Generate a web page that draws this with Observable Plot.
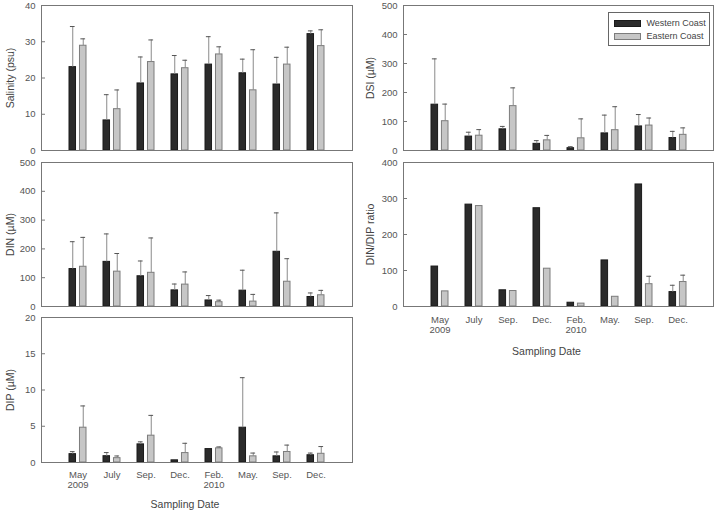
<!DOCTYPE html>
<html>
<head>
<meta charset="utf-8">
<script src="https://cdn.jsdelivr.net/npm/d3@7"></script>
<script src="https://cdn.jsdelivr.net/npm/@observablehq/plot@0.6"></script>
<style>
  body { margin: 0; background: #fff; }
  #fig { position: relative; width: 721px; height: 510px; background: #fff;
         font-family: "Liberation Sans", Arial, sans-serif; color: #444; }
  #fig .panel { position: absolute; }
  #fig .panel svg { overflow: visible; }
  .legend { position: absolute; left: 607.5px; top: 12px; width: 102px; height: 34px;
            border: 1px solid #666; box-sizing: border-box; font-size: 9px; color: #444;
            background: #fff; }
  .legend .row { position: absolute; left: 5px; height: 12px; display: flex; align-items: center;
                 white-space: nowrap; }
  .legend .sw { width: 25px; height: 5px; margin-right: 6px; flex: none; }
</style>
</head>
<body>
<div id="fig"></div>
<script>
// Sampling campaigns and their axis labels
const dates = ["May 2009", "Jul 2009", "Sep 2009", "Dec 2009", "Feb 2010", "May 2010", "Sep 2010", "Dec 2010"];
const dateLabels = ["May\n2009", "July", "Sep.", "Dec.", "Feb.\n2010", "May.", "Sep.", "Dec."];
const seriesNames = ["Western Coast", "Eastern Coast"];

// Salinity (psu): mean and standard deviation
const salinityWest   = [23.0, 8.3, 18.5, 21.0, 23.7, 21.3, 18.2, 32.1];
const salinityWestSD = [11.2, 7.1, 7.3, 5.2, 7.7, 3.9, 7.5, 0.9];
const salinityEast   = [28.9, 11.4, 24.4, 22.7, 26.5, 16.6, 23.7, 28.8];
const salinityEastSD = [1.9, 5.3, 6.1, 2.2, 2.1, 11.2, 4.8, 4.5];

// Dissolved inorganic nitrogen (µM)
const dinWest   = [130, 155, 105, 56, 21, 55, 190, 33];
const dinWestSD = [95, 97, 53, 22, 17, 71, 135, 14];
const dinEast   = [138, 121, 117, 76, 15, 17, 86, 39];
const dinEastSD = [102, 63, 121, 44, 7, 25, 80, 17];

// Dissolved inorganic phosphorus (µM)
const dipWest   = [1.15, 0.87, 2.5, 0.3, 1.85, 4.8, 0.85, 1.0];
const dipWestSD = [0.35, 0.5, 0.35, null, null, 6.9, 0.6, 0.3];
const dipEast   = [4.8, 0.6, 3.7, 1.3, 1.95, 0.85, 1.45, 1.2];
const dipEastSD = [3.0, 0.3, 2.8, 1.35, 0.2, 0.45, 0.95, 1.0];

// Dissolved silicate (µM)
const dsiWest   = [158, 48, 73, 23, 8, 59, 83, 43];
const dsiWestSD = [158, 15, 10, 11, 5, 63, 41, 23];
const dsiEast   = [101, 51, 153, 35, 42, 70, 86, 54];
const dsiEastSD = [59, 21, 63, 17, 67, 81, 26, 24];

// DIN/DIP ratio
const ratioWest   = [111, 283, 45, 273, 10.5, 128, 339, 40];
const ratioWestSD = [null, null, null, null, null, null, null, 19];
const ratioEast   = [42, 279, 43, 105, 8, 27, 62, 68];
const ratioEastSD = [null, null, null, null, null, null, 22, 19];

// y ticks
const salinityTicks = [0, 10, 20, 30, 40];
const dinTicks = [0, 100, 200, 300, 400, 500];
const dipTicks = [0, 5, 10, 15, 20];
const dsiTicks = [0, 100, 200, 300, 400, 500];
const ratioTicks = [0, 100, 200, 300, 400];

const WEST_FILL = "#2b2b2b", WEST_STROKE = "#1a1a1a";
const EAST_FILL = "#c6c6c6", EAST_STROKE = "#7c7c7c";
const AXIS = "#777";

const fig = document.getElementById("fig");
const labelOf = new Map(dates.map((d, i) => [d, dateLabels[i]]));

function panel({west, westSD, east, eastSD, domain, ticks, label,
                left, top, ml, mt, mb, mr = 2, fw, fh, xAxis = false, tickPad = 8, titleDy = 42}) {
  const step = fw / 9, band = step * 0.5, barW = 6.8, gap = band - barW, cap = 2.5;
  const rows = (v, sd) => dates.map((d, i) => ({date: d, value: v[i], sd: sd[i]}));
  const W = rows(west, westSD), E = rows(east, eastSD);
  const errW = W.filter(d => d.sd != null), errE = E.filter(d => d.sd != null);
  const marks = [
    Plot.barY(W, {x: "date", y: "value", insetRight: gap, fill: WEST_FILL, stroke: WEST_STROKE, strokeWidth: 1}),
    Plot.barY(E, {x: "date", y: "value", insetLeft: gap, fill: EAST_FILL, stroke: EAST_STROKE, strokeWidth: 1}),
    Plot.ruleX(errW, {x: "date", y1: "value", y2: d => d.value + d.sd, dx: -gap / 2, stroke: "#8a8a8a"}),
    Plot.ruleX(errE, {x: "date", y1: "value", y2: d => d.value + d.sd, dx: gap / 2, stroke: "#8a8a8a"}),
    Plot.tickY(errW, {x: "date", y: d => d.value + d.sd, insetLeft: barW / 2 - cap, insetRight: band - barW / 2 - cap, stroke: "#555"}),
    Plot.tickY(errE, {x: "date", y: d => d.value + d.sd, insetLeft: band - barW / 2 - cap, insetRight: barW / 2 - cap, stroke: "#555"}),
    Plot.tickY(ticks, {y: d => d, insetRight: fw - 4, stroke: AXIS}),
    Plot.frame({stroke: AXIS}),
    Plot.axisY(ticks, {tickSize: 0, tickPadding: 6, fontSize: 9.5, fill: "#555", label: null}),
    Plot.text([label], {frameAnchor: "left", textAnchor: "middle", rotate: -90, dx: -(ml - 10), fontSize: 10.5, fill: "#444"})
  ];
  if (xAxis) {
    marks.push(Plot.axisX({tickSize: 0, tickPadding: tickPad, fontSize: 9.5, fill: "#555",
                           tickFormat: d => labelOf.get(d), label: null}));
    marks.push(Plot.text(["Sampling Date"], {frameAnchor: "bottom", dy: titleDy, dx: -12, fontSize: 10.5, fill: "#444"}));
  }
  const chart = Plot.plot({
    width: ml + fw + mr,
    height: mt + fh + mb,
    marginLeft: ml, marginRight: mr, marginTop: mt, marginBottom: mb,
    style: {background: "transparent", fontFamily: "Liberation Sans, Arial, sans-serif", overflow: "visible"},
    x: {type: "band", domain: dates, paddingInner: 0.5, paddingOuter: 0.75, axis: xAxis ? undefined : null},
    y: {domain, axis: null},
    marks
  });
  const div = document.createElement("div");
  div.className = "panel";
  div.style.left = left + "px";
  div.style.top = top + "px";
  div.appendChild(chart);
  fig.appendChild(div);
}

// Left column
panel({west: salinityWest, westSD: salinityWestSD, east: salinityEast, eastSD: salinityEastSD,
       domain: [0, 40], ticks: salinityTicks, label: "Salinity (psu)",
       left: 0, top: 0, ml: 41, mt: 5, mb: 2, fw: 311, fh: 145});
panel({west: dinWest, westSD: dinWestSD, east: dinEast, eastSD: dinEastSD,
       domain: [0, 500], ticks: dinTicks, label: "DIN (µM)",
       left: 0, top: 155, ml: 41, mt: 7, mb: 2, fw: 311, fh: 144});
panel({west: dipWest, westSD: dipWestSD, east: dipEast, eastSD: dipEastSD,
       domain: [0, 20], ticks: dipTicks, label: "DIP (µM)",
       left: 0, top: 310, ml: 41, mt: 7, mb: 48, fw: 311, fh: 145,
       xAxis: true, tickPad: 9, titleDy: 45});

// Right column
panel({west: dsiWest, westSD: dsiWestSD, east: dsiEast, eastSD: dsiEastSD,
       domain: [0, 500], ticks: dsiTicks, label: "DSI (µM)",
       left: 360, top: 0, ml: 43, mt: 5, mb: 2, fw: 310, fh: 145});
panel({west: ratioWest, westSD: ratioWestSD, east: ratioEast, eastSD: ratioEastSD,
       domain: [0, 400], ticks: ratioTicks, label: "DIN/DIP ratio",
       left: 360, top: 155, ml: 43, mt: 7, mb: 52, fw: 310, fh: 144,
       xAxis: true, tickPad: 10, titleDy: 48});

// Legend inside the DSI panel
const legend = document.createElement("div");
legend.className = "legend";
[[seriesNames[0], WEST_FILL, WEST_STROKE, 4], [seriesNames[1], EAST_FILL, EAST_STROKE, 17]].forEach(([name, fill, stroke, y]) => {
  const row = document.createElement("div");
  row.className = "row";
  row.style.top = y + "px";
  const sw = document.createElement("span");
  sw.className = "sw";
  sw.style.background = fill;
  sw.style.border = "1px solid " + stroke;
  const t = document.createElement("span");
  t.textContent = name;
  row.append(sw, t);
  legend.appendChild(row);
});
fig.appendChild(legend);
</script>
</body>
</html>
